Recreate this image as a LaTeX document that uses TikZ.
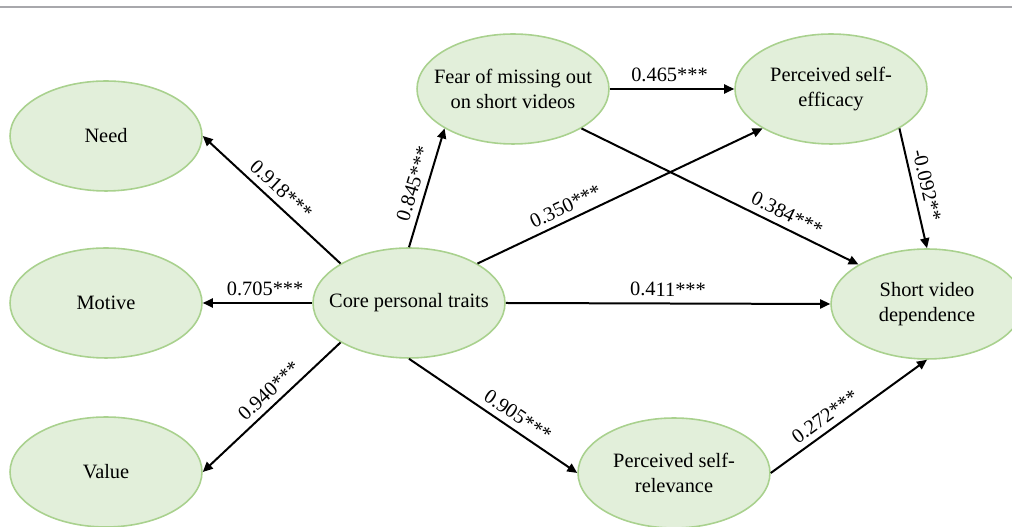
\documentclass[tikz,border=0pt]{standalone}
\usepackage{fontspec}
\setmainfont{Liberation Serif}
\usetikzlibrary{arrows.meta, shapes.geometric}
\definecolor{latfill}{HTML}{E2EFDA}
\definecolor{latline}{HTML}{A9D18E}
\definecolor{rulegray}{HTML}{A8A8AC}

\begin{document}
\begin{tikzpicture}[x=0.02cm, y=0.02cm, >={Triangle[length=0.2cm, width=0.18cm]},
    latent/.style={ellipse, draw=latline, fill=latfill, line width=0.9pt,
        minimum width=3.84cm, minimum height=2.2cm, inner xsep=-0.3cm, inner ysep=0pt,
        align=center, font=\fontsize{11.6}{14.2}\selectfont},
    path/.style={->, line width=0.04cm},
    coef/.style={sloped, above, inner sep=3.5pt, font=\fontsize{11.6}{14.2}\selectfont}]
    \useasboundingbox (0,0) rectangle (1012,527);
    \draw[rulegray, line width=0.04cm] (0,520) -- (1012,520);

    \node[latent] (need)   at (106,391) {Need};
    \node[latent] (motive) at (106,224) {Motive};
    \node[latent] (value)  at (106,55)  {Value};
    \node[latent] (core)   at (409,224) {Core personal traits};
    \node[latent] (fomo)   at (513,438) {Fear of missing out\\on short videos};
    \node[latent] (eff)    at (831,438) {Perceived self-\\efficacy};
    \node[latent] (svd)    at (927,223) {Short video\\dependence};
    \node[latent] (rel)    at (674,54)  {Perceived self-\\relevance};

    \draw[path] (core.north west) -- node[coef, pos=0.5] {0.918***} (need.east);
    \draw[path] (core.west) -- node[coef, pos=0.43] {0.705***} (motive.east);
    \draw[path] (core.south west) -- node[coef, pos=0.45] {0.940***} (value.east);
    \draw[path] (core.north) -- node[coef, pos=0.5] {0.845***} (fomo.south west);
    \draw[path] (core.north east) -- node[coef, pos=0.33] {0.350***} (eff.south west);
    \draw[path] (fomo.east) -- node[coef, pos=0.48] {0.465***} (eff.west);
    \draw[path] (fomo.south east) -- node[coef, pos=0.72] {0.384***} (svd.north west);
    \draw[path] (eff.south east) -- node[coef, pos=0.5] {-0.092**} (svd.north);
    \draw[path] (core.east) -- node[coef, pos=0.5] {0.411***} (svd.west);
    \draw[path] (core.south) -- node[coef, pos=0.6] {0.905***} (rel.west);
    \draw[path] (rel.east) -- node[coef, pos=0.4] {0.272***} (svd.south);
\end{tikzpicture}
\end{document}
